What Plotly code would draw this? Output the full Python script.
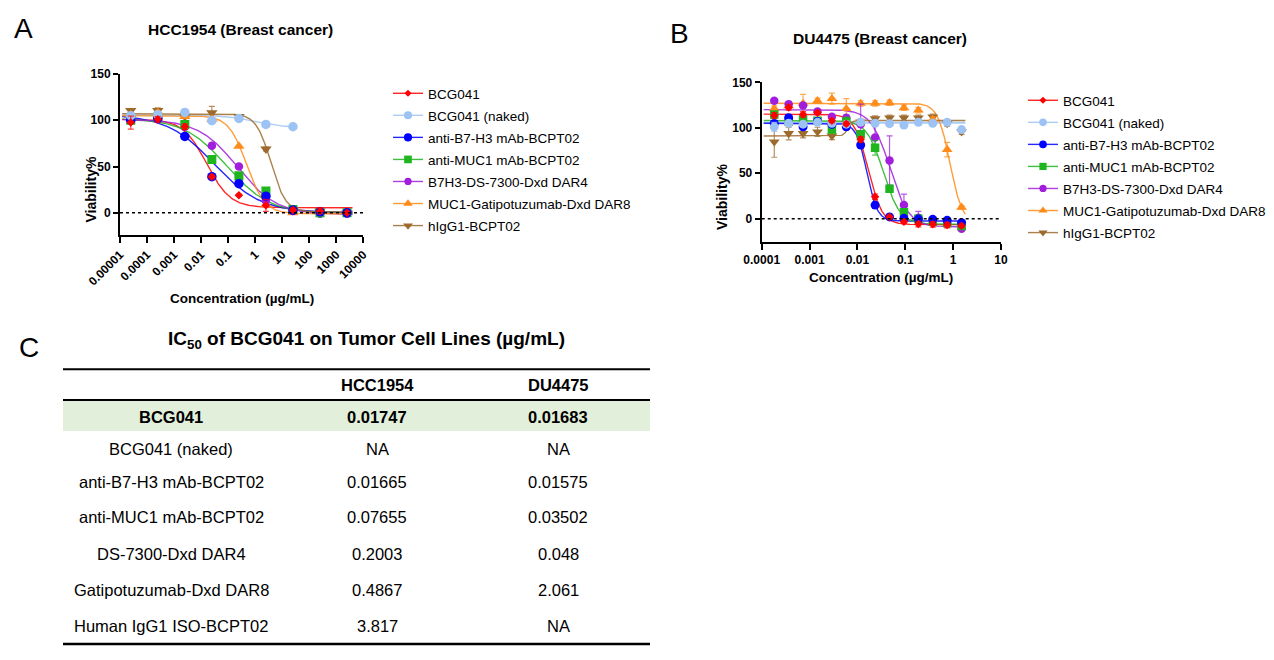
import numpy as np
import plotly.graph_objects as go

W, H = 1274, 660
F = "Liberation Sans, Arial, sans-serif"

# ---------------- data ----------------
series_names = ["BCG041", "BCG041 (naked)", "anti-B7-H3 mAb-BCPT02", "anti-MUC1 mAb-BCPT02",
                "B7H3-DS-7300-Dxd DAR4", "MUC1-Gatipotuzumab-Dxd DAR8", "hIgG1-BCPT02"]
colors = ["#FF0000", "#9CC3F3", "#0000FF", "#1FB51F", "#A11FDC", "#FF8C1A", "#9C6A2C"]
symbols = ["diamond", "circle", "circle", "square", "circle", "triangle-up", "triangle-down"]
msizes_A = [6.5, 9.5, 9.5, 9, 8.5, 10, 10]
msizes_B = [6.5, 9, 9, 8.5, 8.5, 9.5, 9.5]

# Panel A: HCC1954, 10-fold dilutions (ug/mL)
conc_A = [2.5e-5, 2.5e-4, 2.5e-3, 0.025, 0.25, 2.5, 25, 250, 2500]
A_red = [97.5, 101, 93, 39, 19, 8, 3, 2, 0]
A_red_err = [7, 3, 3, 2, 1, 6.5, 2, 3, 1]
A_naked = [105, 106, 108.5, 99.5, 102, 95.5, 93]
A_naked_err = [1, 1, 1, 2, 1, 1, 1]
A_b7h3 = [100, 102, 82.5, 39, 31.5, 18, 3, 1, 0]
A_b7h3_err = [2, 2, 3, 2, 2, 1, 1, 1, 1]
A_muc1 = [100, 103.5, 95.5, 57.5, 40, 23.5, 3.5, 0, 0]
A_muc1_err = [2, 2, 2, 2, 2, 2, 1, 1, 1]
A_ds7300 = [100, 101, 93, 72.5, 50, 13, 2, -1, -1]
A_ds7300_err = [2, 2, 2, 3, 1, 2, 1, 1, 1]
A_gati = [106, 108, 104, 101, 72, 9, 0, 1.5, 0]
A_gati_err = [2, 2, 2, 2, 1, 2, 1, 1, 1]
A_igg = [110.5, 110.5, 104, 108, 104, 69, 3, 2, 0]
A_igg_err = [2, 3, 2, 7, 1, 2, 1, 1, 1]

# fitted 4PL curve parameters: bottom, top, midpoint, hill
A_fit_bottom = [5.5, 92, 0, -1, -2, -1, 1]
A_fit_top = [101, 105.5, 106, 102, 101, 105, 107]
A_fit_mid = [0.016, 1.0, 0.03, 0.09, 0.22, 0.4867, 3.817]
A_fit_hill = [1.0, 0.8, 0.5, 0.55, 0.6, 1.3, 1.6]
A_fit_xmax = [4000, 25, 4000, 4000, 4000, 4000, 4000]
A_fit_xmin = 1.2e-5

# Panel B: DU4475, 2-fold dilutions (ug/mL)
conc_B = [0.000183, 0.000366, 0.000732, 0.001465, 0.00293, 0.00586, 0.0117,
          0.0234, 0.0469, 0.09375, 0.1875, 0.375, 0.75, 1.5]
B_red = [113.6, 122.3, 114.7, 116.5, 107.7, 104.4, 87.2, 24.2, 1.8, -3.3, -5.9, -6.2, -7, -7.7]
B_red_err = [3, 3, 3, 2, 2, 2, 3, 3, 2, 2, 3, 3, 3, 2]
B_naked = [101, 105, 104, 106, 105, 104, 106, 105, 104.5, 103, 106, 105, 106, 98]
B_naked_err = [5, 2, 2, 2, 2, 2, 2, 2, 3, 2, 2, 2, 2, 2]
B_b7h3 = [104.8, 111, 101, 107, 103.7, 101, 81, 15, 2, 0.4, -0.4, -0.7, -1.8, -4.4]
B_b7h3_err = [3, 3, 3, 3, 2, 3, 3, 3, 2, 2, 2, 2, 2, 2]
B_muc1 = [114.7, 106.6, 109, 107.7, 98, 106.6, 93, 78, 33, 7, 0, -3.3, -5, -8]
B_muc1_err = [3, 3, 3, 3, 4, 5, 3, 8, 3, 2, 2, 2, 2, 2]
B_ds7300 = [129.7, 126, 124.5, 118, 112, 111, 104, 89.4, 64, 15, 1, -2, -5, -11]
B_ds7300_err = [2, 2, 2, 2, 2, 3, 22, 15, 27, 12, 7, 3, 4, 2]
B_gati = [121, 124, 126.7, 129.7, 132, 121, 126.7, 126.7, 127.5, 122, 119.4, 109, 76, 12.5]
B_gati_err = [3, 3, 10, 3, 6, 11, 3, 3, 3, 3, 3, 3, 8, 2]
B_igg = [84.6, 93.8, 93.8, 95.6, 91, 104.8, 106.6, 110, 111, 111, 111, 112, 104.8, 95.6]
B_igg_err = [17, 7, 5, 5, 4, 3, 3, 3, 3, 3, 3, 3, 3, 3]

B_fit_bottom = [-6.5, 105.5, -2.5, -6, -9, -5, 108]
B_fit_top = [115, 105.5, 105, 108, 120, 127, 91]
B_fit_mid = [0.01683, 1.0, 0.01575, 0.035, 0.048, 0.86, 0.0063]
B_fit_hill = [3, 1, 4, 2.5, 2.2, 3.4, 10]
B_fit_xmin, B_fit_xmax = 1.1e-4, 1.8

# Panel C: IC50 table (ug/mL)
table_title = "IC<sub>50</sub> of BCG041 on Tumor Cell Lines (µg/mL)"
table_cols = ["", "HCC1954", "DU4475"]
table_rows = ["BCG041", "BCG041 (naked)", "anti-B7-H3 mAb-BCPT02", "anti-MUC1 mAb-BCPT02",
              "DS-7300-Dxd DAR4", "Gatipotuzumab-Dxd DAR8", "Human IgG1 ISO-BCPT02"]
ic50_hcc1954 = ["0.01747", "NA", "0.01665", "0.07655", "0.2003", "0.4867", "3.817"]
ic50_du4475 = ["0.01683", "NA", "0.01575", "0.03502", "0.048", "2.061", "NA"]

A_vals = [A_red, A_naked, A_b7h3, A_muc1, A_ds7300, A_gati, A_igg]
A_errs = [A_red_err, A_naked_err, A_b7h3_err, A_muc1_err, A_ds7300_err, A_gati_err, A_igg_err]
B_vals = [B_red, B_naked, B_b7h3, B_muc1, B_ds7300, B_gati, B_igg]
B_errs = [B_red_err, B_naked_err, B_b7h3_err, B_muc1_err, B_ds7300_err, B_gati_err, B_igg_err]


def px(x):
    return x / W


def py(y):
    return 1 - y / H


def four_pl(x, bottom, top, mid, hill):
    return bottom + (top - bottom) / (1 + (x / mid) ** hill)


def fade(hexc, a):
    h = hexc.lstrip("#")
    r, g, b = int(h[0:2], 16), int(h[2:4], 16), int(h[4:6], 16)
    return f"rgba({r},{g},{b},{a})"


fig = go.Figure()

# ---- panel A ----
for i in range(7):
    xs = np.logspace(np.log10(A_fit_xmin), np.log10(A_fit_xmax[i]), 300)
    fig.add_trace(go.Scatter(x=xs, y=four_pl(xs, A_fit_bottom[i], A_fit_top[i], A_fit_mid[i], A_fit_hill[i]),
                             mode="lines", line=dict(color=fade(colors[i], 0.85), width=1.4),
                             xaxis="x", yaxis="y", showlegend=False, hoverinfo="skip"))
for i in reversed(range(7)):
    n = len(A_vals[i])
    fig.add_trace(go.Scatter(x=conc_A[:n], y=A_vals[i], mode="markers",
                             marker=dict(color=colors[i], symbol=symbols[i], size=msizes_A[i], line=dict(width=0)),
                             error_y=dict(type="data", array=A_errs[i], color=fade(colors[i], 0.75), thickness=1.2, width=3),
                             xaxis="x", yaxis="y", showlegend=False, name=series_names[i]))
for i in range(7):
    fig.add_trace(go.Scatter(x=[None], y=[None], mode="lines+markers", name=series_names[i],
                             line=dict(color=fade(colors[i], 0.85), width=1.4),
                             marker=dict(color=colors[i], symbol=symbols[i], size=msizes_A[i] * 0.85),
                             xaxis="x", yaxis="y", legend="legend", legendgroup=f"A{i}"))

# ---- panel B ----
for i in range(7):
    xs = np.logspace(np.log10(B_fit_xmin), np.log10(B_fit_xmax), 300)
    fig.add_trace(go.Scatter(x=xs, y=four_pl(xs, B_fit_bottom[i], B_fit_top[i], B_fit_mid[i], B_fit_hill[i]),
                             mode="lines", line=dict(color=fade(colors[i], 0.85), width=1.4 if i != 1 else 2.2),
                             xaxis="x2", yaxis="y2", showlegend=False, hoverinfo="skip"))
for i in reversed(range(7)):
    fig.add_trace(go.Scatter(x=conc_B, y=B_vals[i], mode="markers",
                             marker=dict(color=colors[i], symbol=symbols[i], size=msizes_B[i], line=dict(width=0)),
                             error_y=dict(type="data", array=B_errs[i], color=fade(colors[i], 0.75), thickness=1.2, width=3),
                             xaxis="x2", yaxis="y2", showlegend=False, name=series_names[i]))
for i in range(7):
    fig.add_trace(go.Scatter(x=[None], y=[None], mode="lines+markers", name=series_names[i],
                             line=dict(color=fade(colors[i], 0.85), width=1.4),
                             marker=dict(color=colors[i], symbol=symbols[i], size=msizes_B[i] * 0.85),
                             xaxis="x2", yaxis="y2", legend="legend2", legendgroup=f"B{i}"))

tickfont = dict(family=F, size=12, color="black", weight="bold")
axis_common = dict(showline=True, linewidth=2, linecolor="black", ticks="outside", tickwidth=2,
                   tickcolor="black", showgrid=False, zeroline=False, tickfont=tickfont, automargin=False)

A_tickvals = [1e-5, 1e-4, 1e-3, 1e-2, 1e-1, 1, 10, 100, 1000, 10000]
A_ticktext = ["0.00001", "0.0001", "0.001", "0.01", "0.1", "1", "10", "100", "1000", "10000"]
B_tickvals = [1e-4, 1e-3, 1e-2, 1e-1, 1, 10]
B_ticktext = ["0.0001", "0.001", "0.01", "0.1", "1", "10"]
y_tickvals = [0, 50, 100, 150]

fig.update_layout(
    width=W, height=H, margin=dict(l=0, r=0, t=0, b=0, pad=0, autoexpand=False), autosize=False,
    paper_bgcolor="white", plot_bgcolor="white",
    font=dict(family=F, color="black"),
    xaxis=dict(type="log", range=[-5, 4], domain=[px(120), px(363.3)], anchor="y",
               tickvals=A_tickvals, ticktext=A_ticktext, tickangle=-45, ticklen=6, **axis_common),
    yaxis=dict(range=[-24, 150], domain=[py(235), py(74)], anchor="x",
               tickvals=y_tickvals, ticklen=5, **axis_common),
    xaxis2=dict(type="log", range=[-4, 1], domain=[px(761.7), px(1001)], anchor="y2",
                tickvals=B_tickvals, ticktext=B_ticktext, tickangle=0, ticklen=6, **axis_common),
    yaxis2=dict(range=[-25.6, 150], domain=[py(242), py(82.3)], anchor="x2",
                tickvals=y_tickvals, ticklen=5, **axis_common),
    legend=dict(x=px(388), y=py(78), xanchor="left", yanchor="top", bgcolor="rgba(0,0,0,0)",
                font=dict(family=F, size=13.5, color="black"), tracegroupgap=1.5, itemwidth=30),
    legend2=dict(x=px(1023), y=py(85), xanchor="left", yanchor="top", bgcolor="rgba(0,0,0,0)",
                 font=dict(family=F, size=13.5, color="black"), tracegroupgap=1.5, itemwidth=30),
)

shapes = []
# dotted zero lines
for xr, yr in [("x domain", "y"), ("x2 domain", "y2")]:
    shapes.append(dict(type="line", xref=xr, yref=yr, x0=0, x1=1, y0=0, y1=0,
                       line=dict(color="black", width=1.5, dash="dot")))

# table
tx0, tx1 = 63, 650
shapes.append(dict(type="rect", xref="paper", yref="paper", x0=px(tx0), x1=px(tx1), y0=py(431), y1=py(401),
                   fillcolor="#E2EFDA", line=dict(width=0), layer="below"))
for yy, lw in [(369.3, 2), (400, 2), (644, 2.5)]:
    shapes.append(dict(type="line", xref="paper", yref="paper", x0=px(tx0), x1=px(tx1), y0=py(yy), y1=py(yy),
                       line=dict(color="black", width=lw)))
fig.update_layout(shapes=shapes)

ann = []


def add_text(x, y, text, size, bold=False, xanchor="center"):
    ann.append(dict(x=px(x), y=py(y), xref="paper", yref="paper", text=text, showarrow=False,
                    xanchor=xanchor, yanchor="middle",
                    font=dict(family=F, size=size, color="black", weight="bold" if bold else "normal")))


add_text(24, 28, "A", 28)
add_text(679, 33, "B", 28)
add_text(29, 348, "C", 28)
add_text(240.5, 29, "HCC1954 (Breast cancer)", 15.5, bold=True)
add_text(880, 39, "DU4475 (Breast cancer)", 15.5, bold=True)
# axis titles
ann.append(dict(x=px(80), y=py(154.5), xref="paper", yref="paper", text="Viability%", showarrow=False,
                textangle=-90, font=dict(family=F, size=14, color="black", weight="bold")))
ann.append(dict(x=px(722), y=py(162), xref="paper", yref="paper", text="Viability%", showarrow=False,
                textangle=-90, font=dict(family=F, size=14, color="black", weight="bold")))
add_text(241.7, 298, "Concentration (µg/mL)", 13.5, bold=True)
add_text(881, 278, "Concentration (µg/mL)", 13.5, bold=True)

# table text
add_text(366, 340, table_title, 19, bold=True)
col_x = [171, 377, 558]
add_text(col_x[1], 385, table_cols[1], 16.5, bold=True)
add_text(col_x[2], 385, table_cols[2], 16.5, bold=True)
row_y = [417, 448.5, 482, 517, 554, 590, 626]
for r in range(len(table_rows)):
    b = (r == 0)
    add_text(col_x[0], row_y[r], table_rows[r], 16.5, bold=b)
    add_text(col_x[1], row_y[r], ic50_hcc1954[r], 16.5, bold=b)
    add_text(col_x[2], row_y[r], ic50_du4475[r], 16.5, bold=b)

fig.update_layout(annotations=ann)
fig.write_html("out.html")
